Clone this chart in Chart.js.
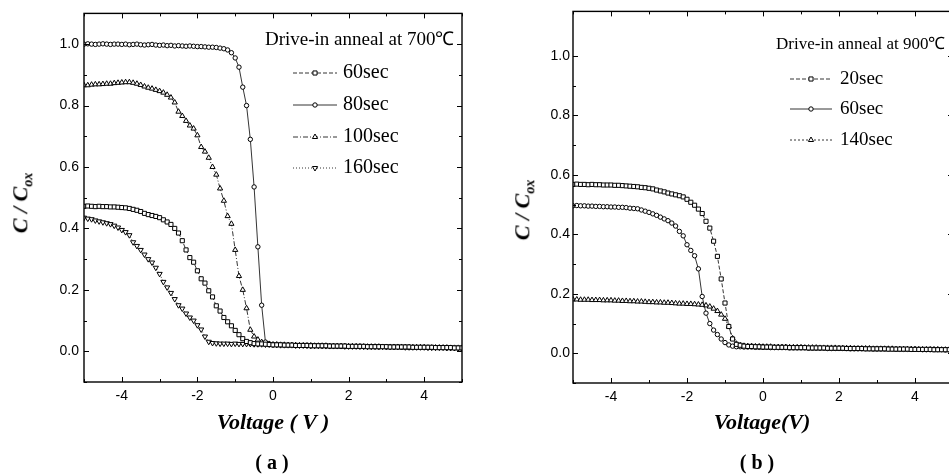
<!DOCTYPE html>
<html>
<head>
<meta charset="utf-8">
<script src="https://cdn.jsdelivr.net/npm/chart.js@4.4.1/dist/chart.umd.min.js"></script>
<style>
  html, body { margin: 0; padding: 0; background: #fff; overflow: hidden; width: 949px; height: 475px; }
  body { position: relative; }
  canvas { position: absolute; top: 0; }
  #ca { left: 0; }
  #cb { left: 489px; }
  .t { position: absolute; white-space: nowrap; color: #000; transform: translate(-50%, -50%); }
  .yt { font: bold italic 22px "Liberation Serif", serif; transform: translate(-50%, -50%) rotate(-90deg); }
  .yt sub { font-size: 14px; }
  .xt { font: bold italic 22px "Liberation Serif", serif; }
  .pl { font: bold 20px "Liberation Serif", serif; }
</style>
</head>
<body>
<canvas id="ca" width="475" height="475"></canvas>
<canvas id="cb" width="480" height="475"></canvas>
<div class="t yt" style="left:22px;top:203px">C / C<sub>ox</sub></div>
<div class="t yt" style="left:524px;top:210px">C / C<sub>ox</sub></div>
<div class="t xt" style="left:273px;top:422px">Voltage ( V )</div>
<div class="t xt" style="left:762px;top:422px">Voltage(V)</div>
<div class="t pl" style="left:272px;top:462px">( a )</div>
<div class="t pl" style="left:757px;top:462px">( b )</div>
<script>
// gate voltage, V (shared by every curve)
const voltage = [
  -5.0, -4.9, -4.8, -4.7, -4.6, -4.5, -4.4, -4.3, -4.2, -4.1,
  -4.0, -3.9, -3.8, -3.7, -3.6, -3.5, -3.4, -3.3, -3.2, -3.1,
  -3.0, -2.9, -2.8, -2.7, -2.6, -2.5, -2.4, -2.3, -2.2, -2.1,
  -2.0, -1.9, -1.8, -1.7, -1.6, -1.5, -1.4, -1.3, -1.2, -1.1,
  -1.0, -0.9, -0.8, -0.7, -0.6, -0.5, -0.4, -0.3, -0.2, -0.1,
  0.0, 0.1, 0.2, 0.3, 0.4, 0.5, 0.6, 0.7, 0.8, 0.9,
  1.0, 1.1, 1.2, 1.3, 1.4, 1.5, 1.6, 1.7, 1.8, 1.9,
  2.0, 2.1, 2.2, 2.3, 2.4, 2.5, 2.6, 2.7, 2.8, 2.9,
  3.0, 3.1, 3.2, 3.3, 3.4, 3.5, 3.6, 3.7, 3.8, 3.9,
  4.0, 4.1, 4.2, 4.3, 4.4, 4.5, 4.6, 4.7, 4.8, 4.9,
  5.0
];

// (a) drive-in anneal at 700 C
const labelsA = ['60sec', '80sec', '100sec', '160sec'];
const a60 = [
  0.472, 0.473, 0.472, 0.471, 0.472, 0.471, 0.471, 0.470, 0.470, 0.469,
  0.468, 0.467, 0.465, 0.462, 0.459, 0.455, 0.449, 0.445, 0.442, 0.439,
  0.435, 0.428, 0.421, 0.413, 0.400, 0.385, 0.360, 0.330, 0.305, 0.290,
  0.262, 0.236, 0.222, 0.197, 0.177, 0.148, 0.131, 0.110, 0.096, 0.083,
  0.068, 0.054, 0.041, 0.032, 0.028, 0.025, 0.024, 0.024, 0.023, 0.022,
  0.021, 0.021, 0.021, 0.020, 0.020, 0.020, 0.019, 0.019, 0.019, 0.019,
  0.018, 0.018, 0.018, 0.018, 0.018, 0.017, 0.017, 0.017, 0.017, 0.017,
  0.016, 0.016, 0.016, 0.016, 0.016, 0.015, 0.015, 0.015, 0.015, 0.015,
  0.015, 0.014, 0.014, 0.014, 0.014, 0.014, 0.014, 0.013, 0.013, 0.013,
  0.013, 0.013, 0.013, 0.012, 0.012, 0.012, 0.012, 0.012, 0.011, 0.011,
  0.011
];
const a80 = [
  1.000, 1.001, 1.000, 0.999, 1.000, 1.001, 1.000, 0.999, 1.000, 1.000,
  0.999, 1.000, 0.998, 0.999, 1.000, 0.998, 0.997, 0.998, 0.999, 0.997,
  0.996, 0.997, 0.995, 0.996, 0.994, 0.995, 0.994, 0.993, 0.994, 0.993,
  0.992, 0.992, 0.991, 0.990, 0.990, 0.989, 0.987, 0.985, 0.981, 0.972,
  0.955, 0.925, 0.860, 0.800, 0.690, 0.535, 0.340, 0.150, 0.030, 0.024,
  0.022, 0.021, 0.021, 0.020, 0.020, 0.020, 0.019, 0.019, 0.019, 0.018,
  0.018, 0.018, 0.018, 0.017, 0.018, 0.017, 0.017, 0.017, 0.016, 0.017,
  0.016, 0.016, 0.016, 0.015, 0.016, 0.015, 0.015, 0.015, 0.014, 0.015,
  0.014, 0.014, 0.014, 0.014, 0.013, 0.014, 0.013, 0.013, 0.013, 0.013,
  0.013, 0.012, 0.012, 0.012, 0.012, 0.012, 0.011, 0.011, 0.011, 0.011,
  0.010
];
const a100 = [
  0.866, 0.866, 0.868, 0.869, 0.869, 0.870, 0.871, 0.871, 0.873, 0.874,
  0.875, 0.876, 0.876, 0.874, 0.871, 0.867, 0.862, 0.858, 0.855, 0.851,
  0.847, 0.842, 0.835, 0.826, 0.810, 0.780, 0.766, 0.750, 0.735, 0.725,
  0.703, 0.665, 0.650, 0.630, 0.600, 0.575, 0.530, 0.490, 0.440, 0.415,
  0.330, 0.245, 0.200, 0.140, 0.070, 0.048, 0.038, 0.030, 0.026, 0.024,
  0.022, 0.022, 0.021, 0.021, 0.020, 0.020, 0.020, 0.019, 0.019, 0.019,
  0.019, 0.018, 0.018, 0.018, 0.018, 0.017, 0.017, 0.017, 0.017, 0.016,
  0.016, 0.016, 0.016, 0.016, 0.015, 0.015, 0.015, 0.015, 0.015, 0.014,
  0.014, 0.014, 0.014, 0.014, 0.014, 0.013, 0.013, 0.013, 0.013, 0.013,
  0.013, 0.012, 0.012, 0.012, 0.012, 0.012, 0.012, 0.011, 0.011, 0.011,
  0.011
];
const a160 = [
  0.435, 0.432, 0.430, 0.426, 0.423, 0.420, 0.417, 0.414, 0.409, 0.403,
  0.395, 0.388, 0.378, 0.355, 0.343, 0.330, 0.315, 0.300, 0.289, 0.272,
  0.252, 0.226, 0.208, 0.190, 0.170, 0.150, 0.139, 0.123, 0.110, 0.100,
  0.085, 0.071, 0.048, 0.031, 0.027, 0.026, 0.025, 0.025, 0.025, 0.024,
  0.025, 0.024, 0.024, 0.024, 0.024, 0.023, 0.023, 0.023, 0.022, 0.022,
  0.021, 0.021, 0.020, 0.020, 0.020, 0.020, 0.019, 0.019, 0.019, 0.019,
  0.018, 0.018, 0.018, 0.018, 0.017, 0.017, 0.017, 0.017, 0.017, 0.016,
  0.016, 0.016, 0.016, 0.016, 0.015, 0.015, 0.015, 0.015, 0.015, 0.015,
  0.014, 0.014, 0.014, 0.014, 0.014, 0.013, 0.013, 0.013, 0.013, 0.013,
  0.013, 0.012, 0.012, 0.012, 0.012, 0.012, 0.011, 0.011, 0.011, 0.011,
  0.010
];

// (b) drive-in anneal at 900 C
const labelsB = ['20sec', '60sec', '140sec'];
const b20 = [
  0.568, 0.569, 0.568, 0.568, 0.567, 0.568, 0.567, 0.567, 0.566, 0.566,
  0.566, 0.565, 0.565, 0.564, 0.563, 0.562, 0.561, 0.560, 0.558, 0.557,
  0.555, 0.553, 0.549, 0.546, 0.543, 0.539, 0.536, 0.533, 0.530, 0.526,
  0.518, 0.508, 0.498, 0.485, 0.470, 0.444, 0.421, 0.377, 0.326, 0.250,
  0.169, 0.090, 0.048, 0.030, 0.027, 0.024, 0.023, 0.023, 0.022, 0.022,
  0.021, 0.021, 0.021, 0.020, 0.020, 0.020, 0.020, 0.019, 0.019, 0.019,
  0.019, 0.019, 0.018, 0.018, 0.018, 0.018, 0.018, 0.017, 0.017, 0.017,
  0.017, 0.017, 0.016, 0.016, 0.016, 0.016, 0.016, 0.015, 0.015, 0.015,
  0.015, 0.015, 0.015, 0.014, 0.014, 0.014, 0.014, 0.014, 0.014, 0.013,
  0.013, 0.013, 0.013, 0.013, 0.013, 0.012, 0.012, 0.012, 0.012, 0.012,
  0.012
];
const b60 = [
  0.496, 0.497, 0.496, 0.496, 0.495, 0.495, 0.494, 0.494, 0.493, 0.493,
  0.492, 0.492, 0.491, 0.491, 0.490, 0.488, 0.487, 0.486, 0.482, 0.478,
  0.474, 0.469, 0.464, 0.458, 0.452, 0.446, 0.438, 0.428, 0.410, 0.395,
  0.365, 0.346, 0.328, 0.284, 0.191, 0.135, 0.100, 0.078, 0.063, 0.048,
  0.036, 0.028, 0.024, 0.022, 0.022, 0.021, 0.021, 0.021, 0.020, 0.020,
  0.020, 0.020, 0.019, 0.019, 0.019, 0.019, 0.019, 0.018, 0.018, 0.018,
  0.018, 0.018, 0.017, 0.017, 0.017, 0.017, 0.017, 0.016, 0.016, 0.016,
  0.016, 0.016, 0.016, 0.015, 0.015, 0.015, 0.015, 0.015, 0.015, 0.014,
  0.014, 0.014, 0.014, 0.014, 0.014, 0.013, 0.013, 0.013, 0.013, 0.013,
  0.013, 0.013, 0.012, 0.012, 0.012, 0.012, 0.012, 0.012, 0.011, 0.011,
  0.011
];
const b140 = [
  0.181, 0.181, 0.180, 0.180, 0.180, 0.179, 0.179, 0.179, 0.178, 0.178,
  0.178, 0.177, 0.177, 0.176, 0.176, 0.175, 0.175, 0.174, 0.174, 0.173,
  0.172, 0.172, 0.171, 0.171, 0.170, 0.170, 0.169, 0.168, 0.167, 0.167,
  0.166, 0.166, 0.165, 0.164, 0.163, 0.161, 0.157, 0.150, 0.142, 0.130,
  0.116, 0.090, 0.050, 0.032, 0.027, 0.025, 0.024, 0.024, 0.023, 0.023,
  0.022, 0.022, 0.022, 0.021, 0.021, 0.021, 0.021, 0.020, 0.020, 0.020,
  0.020, 0.019, 0.019, 0.019, 0.019, 0.018, 0.018, 0.018, 0.018, 0.018,
  0.017, 0.017, 0.017, 0.017, 0.016, 0.016, 0.016, 0.016, 0.016, 0.015,
  0.015, 0.015, 0.015, 0.015, 0.015, 0.014, 0.014, 0.014, 0.014, 0.014,
  0.014, 0.013, 0.013, 0.013, 0.013, 0.013, 0.013, 0.012, 0.012, 0.012,
  0.012
];

const xTicks = [-4, -2, 0, 2, 4];

// helpers ---------------------------------------------------------------
function series(label, values, style, dash) {
  const marker = {
    square: { pointStyle: 'rect', radius: 2.9, rotation: 0 },
    circle: { pointStyle: 'circle', radius: 2.2, rotation: 0 },
    up: { pointStyle: 'triangle', radius: 3.0, rotation: 0 },
    down: { pointStyle: 'triangle', radius: 3.0, rotation: 180 }
  }[style];
  return {
    label,
    data: voltage.map((v, i) => ({ x: v, y: values[i] })),
    borderColor: '#000',
    borderWidth: 0.8,
    borderDash: dash,
    backgroundColor: '#fff',
    pointStyle: marker.pointStyle,
    pointRadius: marker.radius,
    pointRotation: marker.rotation,
    pointBorderWidth: 1,
    pointBorderColor: '#000',
    pointBackgroundColor: '#fff',
    tension: 0
  };
}

// box + inward tick marks on all four sides
const frameTicks = {
  id: 'frameTicks',
  afterDatasetsDraw(chart) {
    const { ctx, chartArea: a, scales: { x, y } } = chart;
    ctx.save();
    ctx.strokeStyle = '#000';
    ctx.lineWidth = 1;
    ctx.beginPath();
    x.ticks.forEach(t => {
      const k = Math.round(t.value);
      if (Math.abs(t.value - k) > 1e-6) return;
      const px = Math.round(x.getPixelForValue(k)) + 0.5;
      const len = k % 2 === 0 ? 5 : 3;
      ctx.moveTo(px, a.bottom); ctx.lineTo(px, a.bottom - len);
      ctx.moveTo(px, a.top); ctx.lineTo(px, a.top + len);
    });
    y.ticks.forEach(t => {
      const k = Math.round(t.value * 10);
      if (Math.abs(t.value * 10 - k) > 1e-6) return;
      const py = Math.round(y.getPixelForValue(k / 10)) + 0.5;
      const len = k % 2 === 0 ? 5 : 3;
      ctx.moveTo(a.left, py); ctx.lineTo(a.left + len, py);
      ctx.moveTo(a.right, py); ctx.lineTo(a.right - len, py);
    });
    ctx.stroke();
    ctx.lineWidth = 1.4;
    ctx.strokeRect(a.left, a.top, a.right - a.left, a.bottom - a.top);
    ctx.restore();
  }
};

// legend drawn inside the plot like the original figure
const inLegend = {
  id: 'inLegend',
  afterDraw(chart, args, opts) {
    const ctx = chart.ctx;
    ctx.save();
    ctx.fillStyle = '#000';
    ctx.textBaseline = 'middle';
    ctx.textAlign = 'left';
    ctx.font = opts.titleFont;
    ctx.fillText(opts.title, opts.titleX, opts.titleY);
    ctx.font = opts.font;
    chart.data.datasets.forEach((ds, i) => {
      const yy = opts.rows[i];
      ctx.strokeStyle = '#000';
      ctx.lineWidth = 0.8;
      ctx.setLineDash(ds.borderDash || []);
      ctx.beginPath();
      ctx.moveTo(opts.x1, yy); ctx.lineTo(opts.x2, yy);
      ctx.stroke();
      ctx.setLineDash([]);
      ctx.fillStyle = '#fff';
      ctx.lineWidth = 1;
      Chart.helpers.drawPoint(ctx, {
        pointStyle: ds.pointStyle, rotation: ds.pointRotation,
        radius: ds.pointRadius, borderWidth: 1
      }, (opts.x1 + opts.x2) / 2, yy);
      ctx.fillStyle = '#000';
      ctx.fillText(ds.label, opts.textX, yy);
    });
    ctx.restore();
  }
};

function tenthsLabel(v) {
  const k = Math.round(v * 10);
  if (Math.abs(v * 10 - k) > 1e-6 || k < 0 || k % 2) return '';
  return (k / 10).toFixed(1);
}

function makeChart(id, datasets, yMax, xAxisH, padRight, yPad, legend) {
  return new Chart(document.getElementById(id), {
    type: 'line',
    data: { datasets },
    plugins: [frameTicks, inLegend],
    options: {
      responsive: false,
      animation: false,
      devicePixelRatio: 1,
      layout: { padding: { top: 10, right: padRight, left: 0, bottom: 0 } },
      plugins: {
        legend: { display: false },
        tooltip: { enabled: false },
        inLegend: legend
      },
      scales: {
        x: {
          type: 'linear', min: -5, max: 5,
          grid: { display: false, drawTicks: false },
          border: { display: false },
          afterFit: s => { s.height = xAxisH; },
          ticks: {
            stepSize: 1, autoSkip: false, maxRotation: 0, padding: 6,
            color: '#000', font: { family: 'Liberation Sans', size: 14 },
            callback: v => xTicks.includes(v) ? String(v) : ''
          }
        },
        y: {
          type: 'linear', min: -0.1, max: yMax,
          grid: { display: false, drawTicks: false },
          border: { display: false },
          afterFit: s => { s.width = 84; },
          ticks: {
            stepSize: 0.1, autoSkip: false, padding: yPad,
            color: '#000', font: { family: 'Liberation Sans', size: 14 },
            callback: v => tenthsLabel(v)
          }
        }
      }
    }
  });
}

makeChart('ca', [
  series(labelsA[0], a60, 'square', [4, 2]),
  series(labelsA[1], a80, 'circle', []),
  series(labelsA[2], a100, 'up', [5, 2, 1, 2]),
  series(labelsA[3], a160, 'down', [1, 2])
], 1.1, 93, 13, 5, {
  title: 'Drive-in anneal at 700\u2103', titleX: 265, titleY: 40,
  titleFont: '19px "Liberation Serif"', font: '20px "Liberation Serif"',
  x1: 293, x2: 337, textX: 343, rows: [73, 105, 137, 168]
});

makeChart('cb', [
  series(labelsB[0], b20, 'square', [4, 2]),
  series(labelsB[1], b60, 'circle', []),
  series(labelsB[2], b140, 'up', [2, 2])
], 1.15, 92, 16, 3, {
  title: 'Drive-in anneal at 900\u2103', titleX: 287, titleY: 45,
  titleFont: '17px "Liberation Serif"', font: '19px "Liberation Serif"',
  x1: 301, x2: 343, textX: 351, rows: [79, 109, 140]
});
</script>
</body>
</html>
